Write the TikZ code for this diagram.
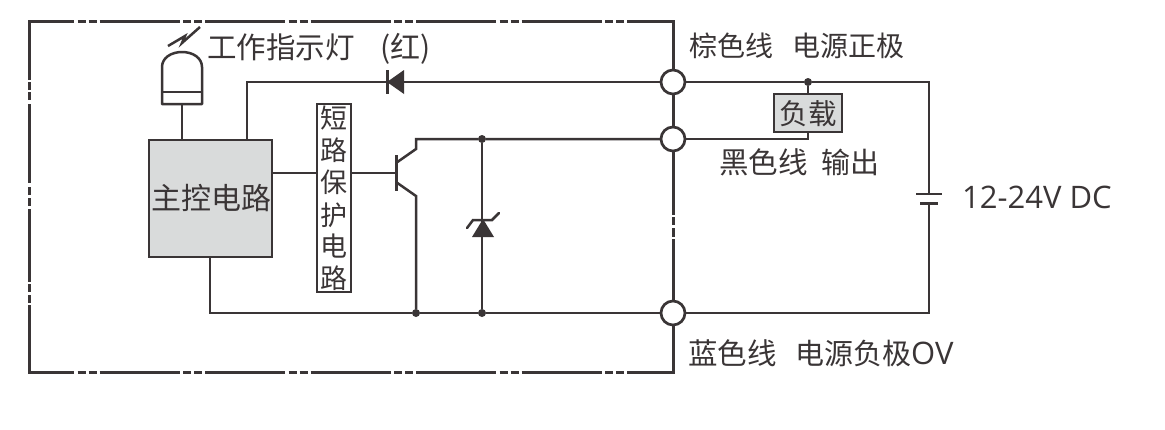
\documentclass[tikz,border=0pt]{standalone}
\usepackage{fontspec}
\setmainfont{Open Sans}
\newfontfamily\cjk{Noto Sans CJK SC}
\definecolor{ink}{HTML}{3A3536}
\definecolor{boxgrey}{HTML}{D9DBDB}
\tikzset{
  wire/.style={draw=ink,line width=2.5pt,line join=miter},
  frameline/.style={draw=ink,line width=3pt,dash pattern=on 80pt off 3.5pt on 8pt off 3pt on 8pt off 3pt,dash phase=35pt},
  frameplain/.style={draw=ink,line width=3pt},
  terminal/.style={circle,draw=ink,line width=2.7pt,fill=white,minimum size=24pt,inner sep=0pt,outer sep=0pt},
  junction/.style={circle,fill=ink,minimum size=8pt,inner sep=0pt,outer sep=0pt},
  greybox/.style={rectangle,draw=ink,line width=2.7pt,fill=boxgrey,inner sep=0pt,outer sep=0pt,text=ink},
  cjktext/.style={anchor=base west,inner sep=0pt,outer sep=0pt,text=ink,font=\cjk\fontsize{#1}{#1}\selectfont},
  cjktext/.default=28,
  solidsym/.style={fill=ink,draw=none},
}
\begin{document}
\begin{tikzpicture}[x=1pt,y=-1pt]
\useasboundingbox (0,0) rectangle (1165,429);
\fill[white] (0,0) rectangle (1165,429);
% dash-dot enclosure
\coordinate (fTL) at (29,21);
\coordinate (fTR) at (673,21);
\coordinate (fBL) at (29,372);
\coordinate (fBR) at (673,372);
\path[frameline] (fTL) -- (fTR);
\path[frameline] (fBL) -- (fBR);
\path[frameplain,line cap=rect] (29,21) -- (29,78) (29,372) -- (29,306);
\path[frameplain,line cap=rect] (673,21) -- (673,213) (673,372) -- (673,240);
\path[frameplain] (29,82)--(29,90) (29,92)--(29,100) (29,104)--(29,183) (29,187)--(29,195) (29,198)--(29,206) (29,209)--(29,282) (29,284)--(29,292) (29,295)--(29,303);
\path[frameplain] (673,217)--(673,225) (673,228)--(673,237);
% nodes
\node[terminal] (t1) at (673,82) {};
\node[terminal] (t2) at (673,139) {};
\node[terminal] (t3) at (673,313) {};
\node[greybox,minimum width=123pt,minimum height=117pt] (main) at (210.5,198.5) {};
\node[cjktext=30] (mainlabel) at (151,209) {主控电路};
\node[greybox,fill=white,minimum width=34pt,minimum height=188pt] (prot) at (334,198) {};
\node[cjktext=27,anchor=base] (p1) at (334,128) {短};
\node[cjktext=27,anchor=base] (p2) at (334,160) {路};
\node[cjktext=27,anchor=base] (p3) at (334,192) {保};
\node[cjktext=27,anchor=base] (p4) at (334,225) {护};
\node[cjktext=27,anchor=base] (p5) at (334,256) {电};
\node[cjktext=27,anchor=base] (p6) at (334,288) {路};
\node[greybox,minimum width=68pt,minimum height=38pt] (load) at (808,113) {};
\node[cjktext=28.5,anchor=base] (loadlabel) at (808,124) {负载};
\node[junction] (j1) at (808,82) {};
\node[junction] (j2) at (482,139) {};
\node[junction] (j3) at (416,313) {};
\node[junction] (j4) at (482,313) {};
% helper coordinates
\coordinate (c1) at (247,82);
\coordinate (c2) at (210,313);
\coordinate (c3) at (929,82);
\coordinate (c4) at (929,313);
\coordinate (bat1) at (929,194);
\coordinate (bat2) at (929,203);
\coordinate (ledbot) at (182,104);
\coordinate (base) at (396,173);
\coordinate (colA) at (396,163);
\coordinate (colB) at (416,149);
\coordinate (colC) at (416,139);
\coordinate (emA) at (396,182);
\coordinate (emB) at (416,196);
% wiring
\draw[wire] (c1 |- main.north) -- (c1) -- (t1);
\draw[wire] (t1) -- (j1) -- (c3) -- (bat1);
\draw[wire] (j1) -- (load.north);
\draw[wire] (load.south) |- (t2);
\draw[wire] (bat2) -- (c4) -- (t3);
\draw[wire] (c2 |- main.south) -- (c2) -- (j3) -- (j4) -- (t3);
\draw[wire] (main.east |- base) -- (prot.west |- base);
\draw[wire] (prot.east |- base) -- (base);
\draw[wire] (colA) -- (colB) -- (colC) -- (j2) -- (t2);
\draw[wire] (emA) -- (emB) -- (j3);
\draw[wire] (j2) -- (j4);
\draw[wire] (ledbot) -- (ledbot |- main.north);
% transistor base bar
\draw[wire,line width=3pt] (396,155) -- (396,191);
% battery plates
\draw[wire] (916,194) -- (942,194);
\draw[wire,line width=3pt] (920,203) -- (938,203);
% diode
\fill[solidsym] (387,82) -- (404,70) -- (404,94) -- cycle;
\draw[wire,line width=3pt] (387,70) -- (387,94);
% zener
\fill[solidsym] (483,219) -- (472,237) -- (494,237) -- cycle;
\draw[wire,line cap=round] (467,228) -- (473,220) -- (492,220) -- (499,213);
% LED
\draw[wire,line join=round] (162,104) -- (162,67) .. controls (162,58) and (171,52) .. (182,52) .. controls (193,52) and (202,58) .. (202,67) -- (202,104) -- cycle;
\draw[wire] (162,92) -- (202,92);
\draw[wire,line join=miter] (168,46) -- (185,36) -- (182,43) -- (200,27);
% labels
\node[cjktext=29.5] (l1) at (207,58) {工作指示灯};
\node[cjktext=30] (l2) at (380,58) {(红)};
\node[cjktext=28] (l3) at (689,56) {棕色线};
\node[cjktext=28] (l4) at (792,56) {电源正极};
\node[cjktext=29.5] (l5) at (719,173) {黑色线};
\node[cjktext=29] (l6) at (821,173) {输出};
\node[cjktext=29.5] (l7) at (688,364) {蓝色线};
\node[cjktext=29] (l8) at (795,364) {电源负极};
\node[anchor=base west,inner sep=0pt,text=ink,font=\fontsize{31}{31}\selectfont] (l9) at (911,364) {OV};
\node[anchor=base west,inner sep=0pt,text=ink,font=\fontsize{31}{31}\selectfont] (l10) at (962,208) {12-24V DC};
\end{tikzpicture}
\end{document}
